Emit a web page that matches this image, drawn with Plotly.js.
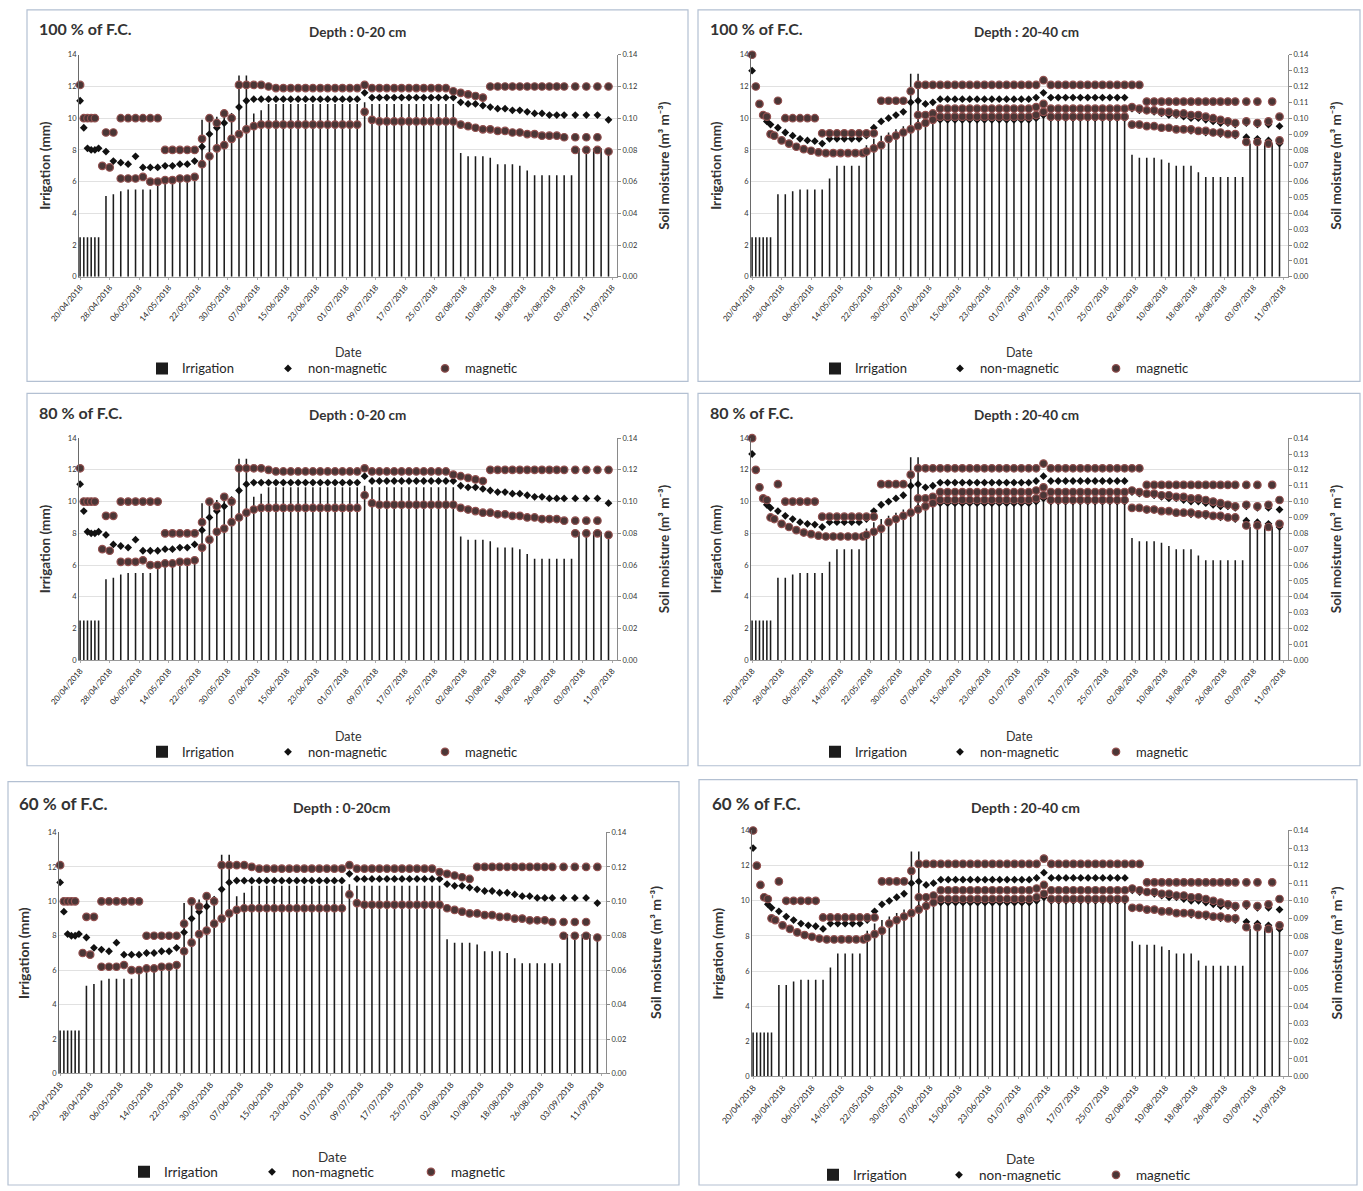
<!DOCTYPE html>
<html><head><meta charset="utf-8">
<script src="https://cdn.plot.ly/plotly-3.0.1.min.js"></script>
<style>html,body{margin:0;padding:0;background:#fff}#chart{width:1363px;height:1191px}</style>
</head><body><div id="chart"></div>
<script>
// ---------- DATA ----------
const tickDays = [0,8,16,24,32,40,48,56,64,72,80,88,96,104,112,120,128,136,144];
const tickLabels = ['20/04/2018','28/04/2018','06/05/2018','14/05/2018','22/05/2018','30/05/2018','07/06/2018','15/06/2018','23/06/2018','01/07/2018','09/07/2018','17/07/2018','25/07/2018','02/08/2018','10/08/2018','18/08/2018','26/08/2018','03/09/2018','11/09/2018'];

// days after 20/04/2018
const irrDays = [0,1,2,3,4,5,7,9,11,13,15,17,19,21,23,25,27,29,31,33,35,37,39,41,43,45,47,49,51,53,55,57,59,61,63,65,67,69,71,73,75,77,79,81,83,85,87,89,91,93,95,97,99,101,103,105,107,109,111,113,115,117,119,121,123,125,127,129,131,133,135,137,139,141,143];
// irrigation (mm), 0-20 cm panels
const irrShallow = [2.5,2.5,2.5,2.5,2.5,2.5,
  5.1,5.2,5.4,5.5,5.5,5.5,5.5,
  6.1,6.2,6.2,6.2,6.2,
  6.4,9.9,10.0,10.1,10.3,10.0,12.7,12.7,10.3,10.5,
  10.9,10.9,10.9,10.9,10.9,10.9,10.9,10.9,10.9,10.9,10.9,10.9,10.9,
  11.0,
  10.9,10.9,10.9,10.9,10.9,10.9,10.9,10.9,10.9,10.9,10.9,10.9,
  7.8,7.6,7.6,7.6,7.5,7.1,7.1,7.1,7.0,6.7,6.4,6.4,6.4,6.4,6.4,6.4,8.1,8.1,8.1,8.1,8.1];
// irrigation (mm), 20-40 cm panels
const irrDeep = [2.5,2.5,2.5,2.5,2.5,2.5,
  5.2,5.2,5.4,5.5,5.5,5.5,5.5,
  6.2,7.0,7.0,7.0,7.0,
  8.3,8.7,8.9,9.1,9.3,9.5,12.8,12.8,9.8,9.9,
  10.0,10.0,10.0,10.0,10.0,10.0,10.0,10.0,10.0,10.0,10.0,10.0,10.0,
  10.0,10.2,
  10.0,10.0,10.0,10.0,10.0,10.0,10.0,10.0,10.0,10.0,10.0,
  7.7,7.5,7.5,7.5,7.4,7.2,7.0,7.0,7.0,6.6,6.3,6.3,6.3,6.3,6.3,6.3,8.4,8.4,8.4,8.4,8.4];

// soil moisture (m3 m-3), 0-20 cm, non-magnetic
const nonMagShallowDays = [0,1,2,3,4,5,7,9,11,13,15,17,19,21,23,25,27,29,31,33,35,37,39,41,43,45,47,49,51,53,55,57,59,61,63,65,67,69,71,73,75,77,79,81,83,85,87,89,91,93,95,97,99,101,103,105,107,109,111,113,115,117,119,121,123,125,127,129,131,134,137,140,143];
const nonMagShallow = [0.111,0.094,0.081,0.080,0.080,0.081,
  0.079,0.073,0.072,0.071,0.076,0.069,0.069,0.069,0.070,0.070,0.071,0.071,0.073,0.082,0.090,0.094,0.097,0.101,0.107,0.111,0.112,0.112,
  0.112,0.112,0.112,0.112,0.112,0.112,0.112,0.112,0.112,0.112,0.112,0.112,0.112,
  0.116,
  0.113,0.113,0.113,0.113,0.113,0.113,0.113,0.113,0.113,0.113,0.113,0.113,
  0.110,0.109,0.109,0.108,0.107,0.106,0.106,0.105,0.105,0.104,0.103,0.103,0.102,0.102,0.102,
  0.102,0.102,0.102,0.099];
// 0-20 cm, magnetic (upper and lower groups of readings)
const magShallowDays = [0,1,2,3,4,7,9,11,13,15,17,19,21,23,25,27,29,31,33,35,37,39,41,43,45,47,49,51,53,55,57,59,61,63,65,67,69,71,73,75,77,79,81,83,85,87,89,91,93,95,97,99,101,103,105,107,109,111,113,115,117,119,121,123,125,127,129,131,134,137,140,143];
const magShallow = [0.121,0.100,0.100,0.100,0.100,
  0.091,0.091,
  0.100,0.100,0.100,0.100,0.100,0.100,
  0.080,0.080,0.080,0.080,0.080,
  0.087,0.100,0.097,0.103,0.100,
  0.121,0.121,0.121,0.121,0.120,
  0.119,0.119,0.119,0.119,0.119,0.119,0.119,0.119,0.119,0.119,0.119,0.119,
  0.121,
  0.119,0.119,0.119,0.119,0.119,0.119,0.119,0.119,0.119,0.119,0.119,
  0.117,0.116,0.115,0.114,0.113,
  0.120,0.120,0.120,0.120,0.120,0.120,0.120,0.120,0.120,0.120,0.120,
  0.120,0.120,0.120,0.120];
const magShallowLowDays = [6,8,11,13,15,17,19,21,23,25,27,29,31,33,35,37,39,41,43,45,47,49,51,53,55,57,59,61,63,65,67,69,71,73,75,77,79,81,83,85,87,89,91,93,95,97,99,101,103,105,107,109,111,113,115,117,119,121,123,125,127,129,131,134,137,140,143,134,137,140];
const magShallowLow = [0.070,0.069,
  0.062,0.062,0.062,0.063,
  0.060,0.060,0.061,0.061,0.062,0.062,0.063,
  0.071,0.076,0.081,0.083,0.087,0.090,0.093,0.095,0.096,
  0.096,0.096,0.096,0.096,0.096,0.096,0.096,0.096,0.096,0.096,0.096,0.096,0.096,
  0.104,0.099,
  0.098,0.098,0.098,0.098,0.098,0.098,0.098,0.098,0.098,0.098,0.098,
  0.096,0.095,0.094,0.093,0.093,0.092,0.092,0.091,0.091,0.090,0.090,0.089,0.089,0.089,0.088,
  0.088,0.088,0.088,0.079,
  0.080,0.080,0.080];

// soil moisture (m3 m-3), 20-40 cm, non-magnetic (two groups)
const nonMagDeepDays = [0,4,5,7,9,11,13,15,17,19,21,23,25,27,29,31,33,35,37,39,41,43,45,47,49,51,53,55,57,59,61,63,65,67,69,71,73,75,77,79,81,83,85,87,89,91,93,95,97,99,101,103,105,107,109,111,113,115,117,119,121,123,125,127,129,131,134,137,140,143];
const nonMagDeep = [0.130,0.098,0.096,
  0.094,0.091,0.089,0.087,0.086,0.0855,0.084,0.087,0.087,0.087,0.087,0.087,0.089,0.094,0.098,0.100,0.102,0.104,0.110,0.111,0.109,0.110,
  0.112,0.112,0.112,0.112,0.112,0.112,0.112,0.112,0.112,0.112,0.112,0.112,0.112,
  0.113,0.116,
  0.113,0.113,0.113,0.113,0.113,0.113,0.113,0.113,0.113,0.113,0.113,
  0.106,0.105,0.105,0.104,0.103,0.102,0.102,0.101,0.100,0.100,0.099,0.098,0.097,0.097,0.096,
  0.097,0.096,0.096,0.095];
const nonMagDeepLowDays = [45,47,49,51,53,55,57,59,61,63,65,67,69,71,73,75,77,79,81,83,85,87,89,91,93,95,97,99,101,103,105,107,109,111,113,115,117,119,121,123,125,127,129,131,134,137,140,143];
const nonMagDeepLow = [0.096,0.098,0.099,
  0.099,0.099,0.099,0.099,0.099,0.099,0.099,0.099,0.099,0.099,0.099,0.099,0.099,
  0.100,0.102,
  0.100,0.100,0.100,0.100,0.100,0.100,0.100,0.100,0.100,0.100,0.100,
  0.096,0.096,0.095,0.095,0.094,0.094,0.093,0.093,0.092,0.092,0.091,0.091,0.090,0.090,0.089,
  0.088,0.087,0.086,0.084];
// 20-40 cm, magnetic (three groups)
const magDeepDays = [0,1,2,3,4,7,9,11,13,15,17,19,21,23,25,27,29,31,33,35,37,39,41,43,45,47,49,51,53,55,57,59,61,63,65,67,69,71,73,75,77,79,81,83,85,87,89,91,93,95,97,99,101,103,105,107,109,111,113,115,117,119,121,123,125,127,129,131,134,137,141];
const magDeep = [0.140,0.120,0.109,0.102,0.101,0.111,
  0.100,0.100,0.100,0.100,0.100,
  0.0905,0.0905,0.0905,0.0905,0.0905,0.0905,0.0905,0.0905,
  0.111,0.111,0.111,0.111,
  0.117,
  0.121,0.121,0.121,0.121,0.121,0.121,0.121,0.121,0.121,0.121,0.121,0.121,0.121,0.121,0.121,0.121,0.121,
  0.124,
  0.121,0.121,0.121,0.121,0.121,0.121,0.121,0.121,0.121,0.121,0.121,0.121,0.121,
  0.1105,0.1105,0.1105,0.1105,0.1105,0.1105,0.1105,0.1105,0.1105,0.1105,0.1105,0.1105,0.1105,
  0.1105,0.1105,0.1105];
const magDeepMidDays = [45,47,49,51,53,55,57,59,61,63,65,67,69,71,73,75,77,79,81,83,85,87,89,91,93,95,97,99,101,103,105,107,109,111,113,115,117,119,121,123,125,127,129,131,134,137,140,143];
const magDeepMid = [0.102,0.102,0.103,
  0.106,0.106,0.106,0.106,0.106,0.106,0.106,0.106,0.106,0.106,0.106,0.106,0.106,
  0.107,0.109,
  0.106,0.106,0.106,0.106,0.106,0.106,0.106,0.106,0.106,0.106,0.106,
  0.107,0.106,0.105,0.105,0.104,0.104,0.103,0.103,0.102,0.102,0.101,0.100,0.099,0.098,0.097,
  0.098,0.097,0.098,0.101];
const magDeepLowDays = [5,6,8,10,12,14,16,18,20,22,24,26,28,30,31,33,35,37,39,41,43,45,47,49,51,53,55,57,59,61,63,65,67,69,71,73,75,77,79,81,83,85,87,89,91,93,95,97,99,101,103,105,107,109,111,113,115,117,119,121,123,125,127,129,131,134,137,140,143];
const magDeepLow = [0.090,0.089,0.086,0.084,0.082,0.0805,0.0795,0.0785,0.078,0.078,0.078,0.078,0.078,0.078,
  0.079,0.081,0.083,0.087,0.089,0.091,0.093,0.095,0.097,0.099,
  0.101,0.101,0.101,0.101,0.101,0.101,0.101,0.101,0.101,0.101,0.101,0.101,0.101,
  0.102,0.104,
  0.101,0.101,0.101,0.101,0.101,0.101,0.101,0.101,0.101,0.101,0.101,
  0.096,0.096,0.095,0.095,0.094,0.094,0.093,0.093,0.093,0.092,0.092,0.091,0.091,0.090,0.090,
  0.085,0.085,0.084,0.086];

const seriesNames = ['Irrigation', 'non-magnetic', 'magnetic'];

// ---------- LAYOUT ----------
const W = 1363, H = 1191;
const FONT = 'Lato, "Open Sans", "Liberation Sans", sans-serif';
const TXT = '#262626';

const panels = [
  {fc:'100 % of F.C.', depth:'Depth : 0-20 cm', deep:false, plot:[79,55,617,278], box:[27,10,688,383],
   title:[37,29,16], depthPos:[357,32], yl:45, yr:664, dateY:354, legY:370, legText:[180,306,463]},
  {fc:'100 % of F.C.', depth:'Depth : 20-40 cm', deep:true, plot:[751,55,1288,278], box:[698,10,1360,383],
   title:[708,29,16], depthPos:[1026,32], yl:716, yr:1336, dateY:354, legY:370, legText:[853,978,1134]},
  {fc:'80 % of F.C.', depth:'Depth : 0-20 cm', deep:false, plot:[79,440,617,663], box:[27,395,688,769],
   title:[37,414,16], depthPos:[357,417], yl:45, yr:664, dateY:740, legY:755, legText:[180,306,463]},
  {fc:'80 % of F.C.', depth:'Depth : 20-40 cm', deep:true, plot:[751,440,1288,663], box:[698,395,1360,769],
   title:[708,414,16], depthPos:[1026,417], yl:716, yr:1336, dateY:740, legY:755, legText:[853,978,1134]},
  {fc:'60 % of F.C.', depth:'Depth : 0-20cm', deep:false, plot:[59,836,606,1078], box:[8,785,679,1190],
   title:[17,807,17], depthPos:[341,811], yl:24, yr:656, dateY:1162, legY:1177, legText:[162,290,449]},
  {fc:'60 % of F.C.', depth:'Depth : 20-40 cm', deep:true, plot:[752,834,1288,1081], box:[699,783,1357,1190],
   title:[710,807,17], depthPos:[1025,811], yl:717, yr:1336, dateY:1164, legY:1180, legText:[851,977,1134]}
];

const traces = [];
const layout = {
  width: W, height: H, margin:{l:0,r:0,t:0,b:0}, autosize:false,
  paper_bgcolor:'#ffffff', plot_bgcolor:'rgba(0,0,0,0)',
  font:{family:FONT, color:TXT}, showlegend:true, barmode:'overlay',
  annotations:[], shapes:[]
};
const px = v => v / W;
const py = v => 1 - v / H;

const magMarker = {symbol:'circle', size:7.5, color:'#4a3636', line:{color:'#93504f', width:1.2}};
const nonMagMarker = {symbol:'diamond', size:6, color:'#111111'};

let legCount = 0;
function newLegend(x, y, size) {
  legCount += 1;
  const id = legCount === 1 ? 'legend' : 'legend' + legCount;
  layout[id] = {orientation:'h', x: px(x - 38), y: py(y), xanchor:'left', yanchor:'middle',
    font:{size:size, family:FONT, color:TXT}, bgcolor:'rgba(0,0,0,0)', itemwidth:30};
  return id;
}

panels.forEach((p, i) => {
  const n = i + 1;
  const xa = n === 1 ? 'x' : 'x' + n;
  const ylId = n === 1 ? 'y' : 'y' + (2 * n - 1);
  const yrId = 'y' + (2 * n);
  const [x0, y0, x1, y1] = p.plot;
  const big = n >= 5;
  const legSize = big ? 13.5 : 13;
  const lgs = p.legText.map(t => newLegend(t, p.legY, legSize));

  layout[n === 1 ? 'xaxis' : 'xaxis' + n] = {
    domain:[px(x0), px(x1)], anchor: ylId, range:[-0.3, 145.3],
    tickmode:'array', tickvals: tickDays, ticktext: tickLabels, tickangle:-50,
    tickfont:{size: big ? 8.5 : 8, color:'#222', family:FONT},
    showline:true, linecolor:'#9a9a9a', linewidth:1, ticks:'outside', ticklen:2, tickcolor:'#aaaaaa',
    showgrid:false, zeroline:false, fixedrange:true
  };
  layout['yaxis' + (n === 1 ? '' : (2 * n - 1))] = {
    domain:[py(y1), py(y0)], anchor: xa, range:[0, 14], tick0:0, dtick:2,
    showgrid:true, gridcolor:'#e1e1e1', gridwidth:1, showline:true, linecolor:'#6a6a6a', linewidth:1,
    ticks:'', tickfont:{size:7.5, color:'#333', family:FONT}, zeroline:false, fixedrange:true
  };
  layout['yaxis' + (2 * n)] = {
    domain:[py(y1), py(y0)], anchor: xa, overlaying: ylId, side:'right',
    range:[0, 0.14], tick0:0, dtick: p.deep ? 0.01 : 0.02, tickformat:'.2f',
    showgrid:false, showline:true, linecolor:'#8a8a8a', linewidth:1, ticks:'outside', ticklen:3, tickcolor:'#8a8a8a',
    tickfont:{size:7.5, color:'#333', family:FONT}, zeroline:false, fixedrange:true
  };

  const irr = p.deep ? irrDeep : irrShallow;
  traces.push({type:'bar', name: seriesNames[0], x: irrDays, y: irr, xaxis: xa, yaxis: ylId, width:0.42,
    marker:{color:'#1c1c1c', line:{width:0}}, legend: lgs[0], hoverinfo:'skip'});

  const nmSets = p.deep ? [[nonMagDeepDays, nonMagDeep], [nonMagDeepLowDays, nonMagDeepLow]]
                        : [[nonMagShallowDays, nonMagShallow]];
  nmSets.forEach((s, k) => traces.push({type:'scatter', mode:'markers', name: seriesNames[1],
    x: s[0], y: s[1], xaxis: xa, yaxis: yrId, marker: nonMagMarker, legend: lgs[1], cliponaxis:false,
    showlegend: k === 0, legendgroup:'nm' + n, hoverinfo:'skip'}));

  const mSets = p.deep ? [[magDeepDays, magDeep], [magDeepMidDays, magDeepMid], [magDeepLowDays, magDeepLow]]
                       : [[magShallowDays, magShallow], [magShallowLowDays, magShallowLow]];
  mSets.forEach((s, k) => traces.push({type:'scatter', mode:'markers', name: seriesNames[2],
    x: s[0], y: s[1], xaxis: xa, yaxis: yrId, marker: magMarker, legend: lgs[2], cliponaxis:false,
    showlegend: k === 0, legendgroup:'m' + n, hoverinfo:'skip'}));

  // box
  const b = p.box;
  layout.shapes.push({type:'rect', xref:'paper', yref:'paper', x0: px(b[0]), x1: px(b[2]), y0: py(b[3]), y1: py(b[1]),
    line:{color:'#b3c0d2', width:1.2}, fillcolor:'rgba(0,0,0,0)', layer:'below'});

  const A = layout.annotations;
  A.push({xref:'paper', yref:'paper', x: px(p.title[0]), y: py(p.title[1]), xanchor:'left', yanchor:'middle',
    text: p.fc, showarrow:false, font:{size:p.title[2], family:FONT, color:'#333', weight:'bold'}});
  A.push({xref:'paper', yref:'paper', x: px(p.depthPos[0]), y: py(p.depthPos[1]), xanchor:'center', yanchor:'middle',
    text: p.depth, showarrow:false, font:{size: big ? 14 : 13.5, family:FONT, color:'#333', weight:'bold'}});
  const yc = (y0 + y1) / 2;
  A.push({xref:'paper', yref:'paper', x: px(p.yl), y: py(yc), xanchor:'center', yanchor:'middle', textangle:-90,
    text:'Irrigation (mm)', showarrow:false, font:{size: big ? 14 : 13.5, family:FONT, color:'#333', weight:'bold'}});
  A.push({xref:'paper', yref:'paper', x: px(p.yr), y: py(yc), xanchor:'center', yanchor:'middle', textangle:-90,
    text:'Soil moisture (m³ m⁻³)', showarrow:false, font:{size: big ? 14 : 13.5, family:FONT, color:'#333', weight:'bold'}});
  A.push({xref:'paper', yref:'paper', x: px((x0 + x1) / 2), y: py(p.dateY), xanchor:'center', yanchor:'middle',
    text:'Date', showarrow:false, font:{size: big ? 13.5 : 12.5, family:FONT, color:'#333'}});
});

Plotly.newPlot('chart', traces, layout, {staticPlot:true, displayModeBar:false});
</script>
</body></html>
